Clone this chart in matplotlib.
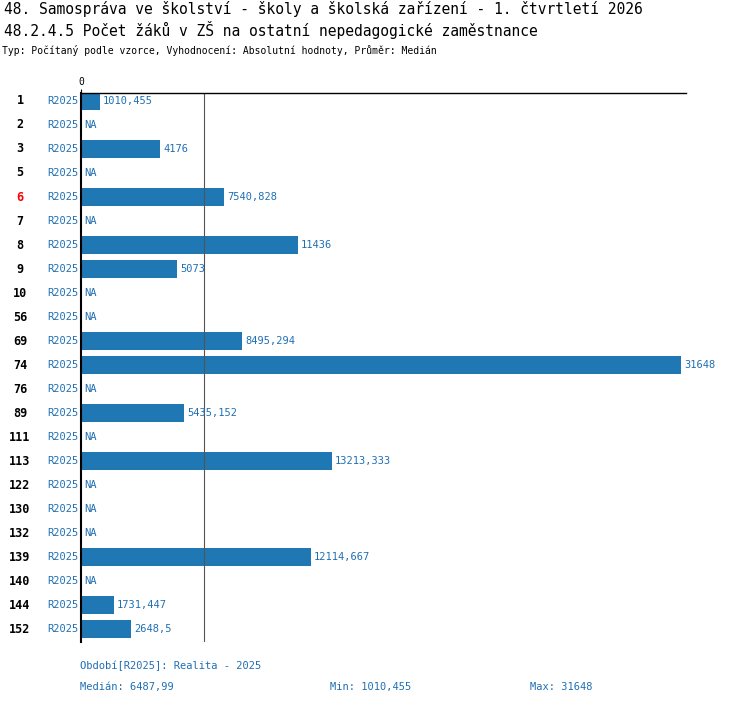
import numpy as np
import matplotlib.pyplot as plt

plt.rcParams['font.family'] = ['DejaVu Sans Mono']

CATEGORIES = ['1', '2', '3', '5', '6', '7', '8', '9', '10', '56', '69', '74', '76', '89',
              '111', '113', '122', '130', '132', '139', '140', '144', '152']
VALUES = [1010.455, None, 4176, None, 7540.828, None, 11436, 5073, None, None, 8495.294,
          31648, None, 5435.152, None, 13213.333, None, None, None, 12114.667, None,
          1731.447, 2648.5]
LABELS = ['1010,455', 'NA', '4176', 'NA', '7540,828', 'NA', '11436', '5073', 'NA', 'NA',
          '8495,294', '31648', 'NA', '5435,152', 'NA', '13213,333', 'NA', 'NA', 'NA',
          '12114,667', 'NA', '1731,447', '2648,5']
SERIES = 'R2025'
MEDIAN = 6487.99
HIGHLIGHT = '6'

BLUE = '#1f77b4'
TXT_BLUE = '#1f6fb4'
W, H = 750, 704

fig = plt.figure(figsize=(7.5, 7.04), dpi=100)
fig.text(4 / W, 1 - 9 / H, '48. Samospráva ve školství - školy a školská zařízení - 1. čtvrtletí 2026',
         fontsize=10.5, va='center', ha='left')
fig.text(4 / W, 1 - 30 / H, '48.2.4.5 Počet žáků v ZŠ na ostatní nepedagogické zaměstnance',
         fontsize=10.5, va='center', ha='left')
fig.text(2 / W, 1 - 50 / H, 'Typ: Počítaný podle vzorce, Vyhodnocení: Absolutní hodnoty, Průměr: Medián',
         fontsize=7, va='center', ha='left')

ax = fig.add_axes([81 / W, 1 - 642 / H, (686 - 81) / W, (642 - 93) / H])
vmax = max(v for v in VALUES if v is not None)
ax.set_xlim(0, vmax * 605 / 600)
n = len(CATEGORIES)
ax.set_ylim(22.54, -0.333)
y = np.arange(n)
vals = [v if v is not None else 0 for v in VALUES]
ax.barh(y, vals, height=0.75, color=BLUE)
for i, (v, lab) in enumerate(zip(vals, LABELS)):
    ax.text(v + vmax * 3 / 600, i, lab, color=TXT_BLUE, fontsize=7.5, va='center', ha='left')
    ax.text(-vmax * 3 / 600, i, SERIES, color=TXT_BLUE, fontsize=7.5, va='center', ha='right')
    ax.text(-vmax * 61 / 600, i, CATEGORIES[i], fontsize=8.5, fontweight='bold', va='center',
            ha='center', color='red' if CATEGORIES[i] == HIGHLIGHT else 'black')
ax.axvline(MEDIAN, color='#555555', lw=0.8)
for s in ['right', 'bottom']:
    ax.spines[s].set_visible(False)
ax.spines['left'].set_linewidth(1.5)
ax.spines['top'].set_linewidth(1.0)
ax.set_yticks([])
ax.xaxis.tick_top()
ax.set_xticks([0])
ax.set_xticklabels(['0'], fontsize=7)
ax.tick_params(axis='x', length=3, pad=1)

fig.text(80 / W, 1 - 666 / H, 'Období[R2025]: Realita - 2025', color=TXT_BLUE, fontsize=7.5, va='center')
fig.text(80 / W, 1 - 687 / H, 'Medián: 6487,99', color=TXT_BLUE, fontsize=7.5, va='center')
fig.text(330 / W, 1 - 687 / H, 'Min: 1010,455', color=TXT_BLUE, fontsize=7.5, va='center')
fig.text(530 / W, 1 - 687 / H, 'Max: 31648', color=TXT_BLUE, fontsize=7.5, va='center')

fig.savefig('out.png', dpi=100, facecolor='white')
